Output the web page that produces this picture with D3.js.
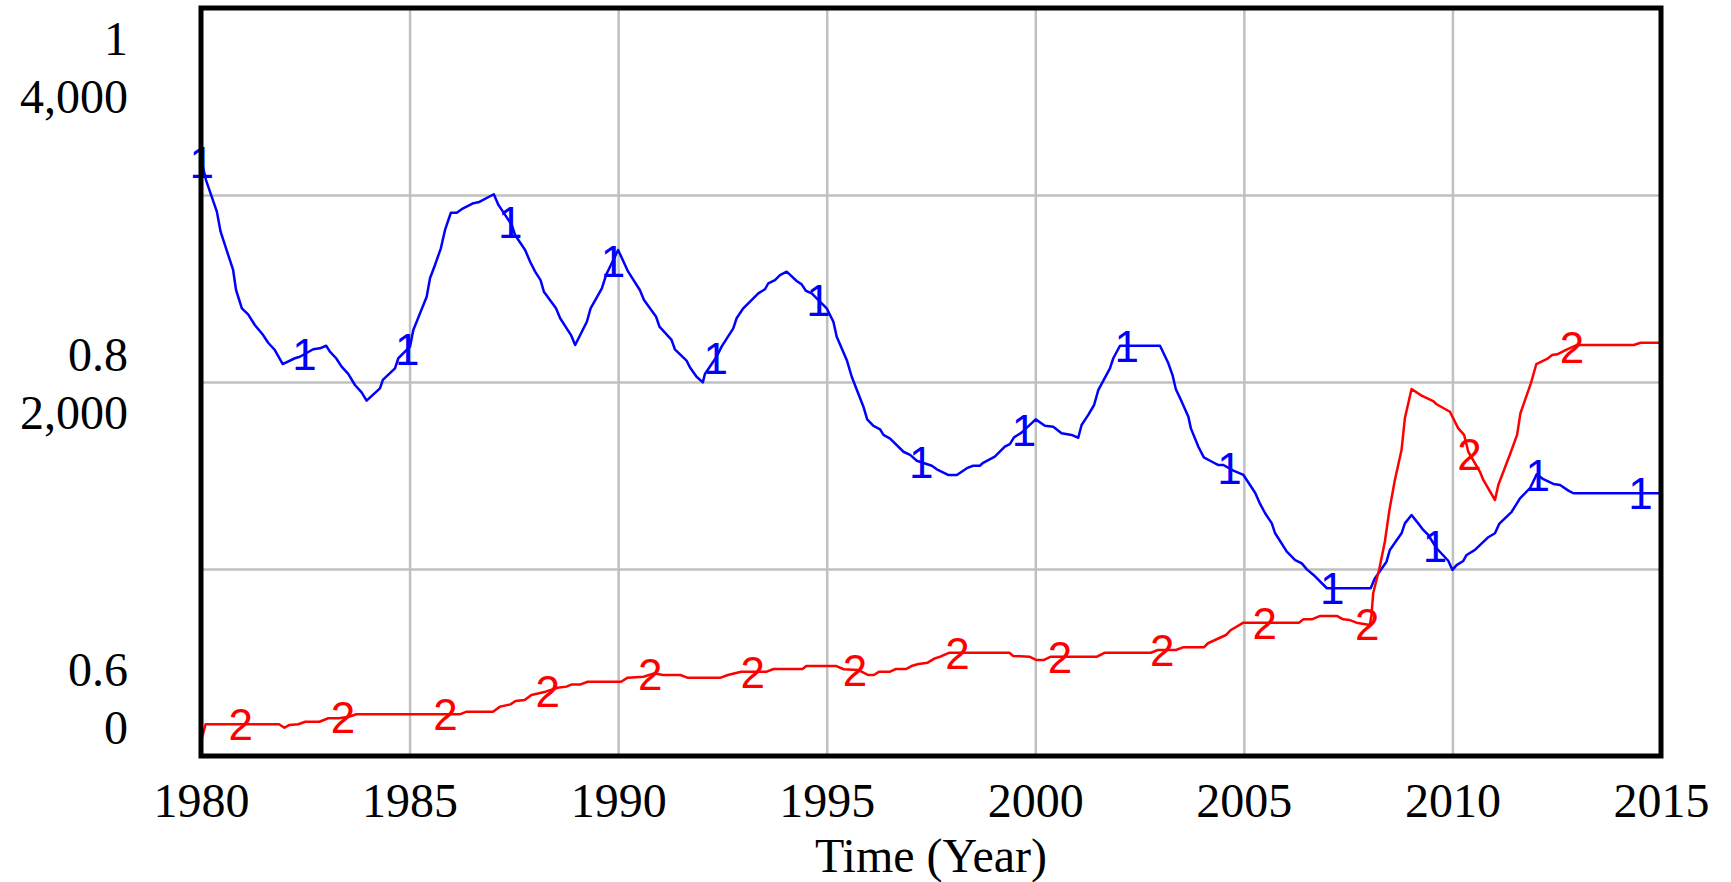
<!DOCTYPE html>
<html>
<head>
<meta charset="utf-8">
<script src="https://cdn.jsdelivr.net/npm/d3@7"></script>
<style>
  body { margin: 0; background: #fff; }
</style>
</head>
<body>
<div id="chart"></div>
<script>
// Series 1 (blue, left scale 0 - 4,000)
const series1Time = [
  1980.00, 1980.12, 1980.38, 1980.47, 1980.77, 1980.84, 1980.98, 1981.13, 1981.29, 1981.49,
  1981.61, 1981.77, 1981.96, 1982.25, 1982.37, 1982.69, 1982.85, 1983.00, 1983.09, 1983.24,
  1983.37, 1983.53, 1983.69, 1983.85, 1983.97, 1984.29, 1984.36, 1984.65, 1984.73, 1985.01,
  1985.09, 1985.25, 1985.41, 1985.49, 1985.61, 1985.75, 1985.85, 1985.99, 1986.13, 1986.25,
  1986.53, 1986.65, 1987.02, 1987.13, 1987.45, 1987.53, 1987.77, 1987.89, 1988.01, 1988.14,
  1988.22, 1988.51, 1988.61, 1988.87, 1988.97, 1989.25, 1989.34, 1989.61, 1989.71, 1990.00,
  1990.24, 1990.52, 1990.62, 1990.91, 1990.99, 1991.28, 1991.36, 1991.64, 1991.72, 1991.88,
  1992.03, 1992.08, 1992.36, 1992.48, 1992.76, 1992.84, 1993.00, 1993.36, 1993.52, 1993.60,
  1993.76, 1993.88, 1994.04, 1994.28, 1994.40, 1994.50, 1994.64, 1995.00, 1995.16, 1995.24,
  1995.48, 1995.60, 1995.88, 1995.97, 1996.12, 1996.28, 1996.36, 1996.52, 1996.84, 1997.00,
  1997.16, 1997.52, 1997.64, 1997.91, 1998.12, 1998.36, 1998.51, 1998.67, 1998.75, 1999.03,
  1999.27, 1999.39, 1999.49, 1999.67, 2000.01, 2000.23, 2000.43, 2000.63, 2000.87, 2001.03,
  2001.11, 2001.27, 2001.41, 2001.51, 2001.79, 2001.87, 2002.03, 2002.99, 2003.19, 2003.29,
  2003.37, 2003.51, 2003.67, 2003.73, 2003.91, 2004.04, 2004.19, 2004.39, 2004.51, 2004.75,
  2004.99, 2005.27, 2005.39, 2005.51, 2005.67, 2005.75, 2006.03, 2006.23, 2006.39, 2006.51,
  2006.67, 2006.99, 2008.04, 2008.14, 2008.42, 2008.50, 2008.78, 2008.86, 2009.02, 2009.18,
  2009.30, 2009.42, 2009.62, 2009.90, 2010.00, 2010.10, 2010.26, 2010.34, 2010.54, 2010.86,
  2011.02, 2011.12, 2011.42, 2011.62, 2011.86, 2012.02, 2012.18, 2012.42, 2012.58, 2012.78,
  2012.90, 2015.00
];
const series1Value = [
  3195, 3080, 2911, 2804, 2599, 2492, 2394, 2362, 2305, 2251,
  2210, 2171, 2096, 2127, 2135, 2175, 2180, 2194, 2162, 2127,
  2082, 2043, 1984, 1945, 1900, 1966, 2011, 2073, 2127, 2189,
  2278, 2367, 2456, 2555, 2626, 2715, 2813, 2905, 2905, 2924,
  2956, 2961, 3004, 2947, 2840, 2786, 2706, 2643, 2590, 2545,
  2483, 2394, 2341, 2251, 2198, 2322, 2394, 2501, 2572, 2706,
  2590, 2492, 2439, 2349, 2296, 2225, 2175, 2114, 2079, 2028,
  1998, 2043, 2135, 2189, 2287, 2341, 2394, 2474, 2496, 2528,
  2545, 2572, 2590, 2540, 2522, 2488, 2474, 2394, 2322, 2242,
  2118, 2028, 1868, 1800, 1765, 1747, 1717, 1697, 1627, 1610,
  1579, 1552, 1533, 1503, 1503, 1539, 1552, 1552, 1568, 1601,
  1654, 1668, 1704, 1729, 1800, 1766, 1761, 1726, 1717, 1702,
  1770, 1824, 1877, 1957, 2073, 2127, 2194, 2194, 2100, 2037,
  1961, 1895, 1814, 1752, 1654, 1597, 1579, 1556, 1556, 1526,
  1503, 1408, 1348, 1298, 1244, 1191, 1093, 1048, 1030, 998,
  968, 897, 897, 950, 1039, 1102, 1191, 1244, 1289, 1244,
  1209, 1182, 1111, 1044, 995, 1021, 1043, 1075, 1102, 1170,
  1191, 1241, 1306, 1378, 1432, 1506, 1480, 1455, 1449, 1419,
  1405, 1405
];

// Series 2 (red, left scale 0.6 - 1)
const series2Time = [
  1980.00, 1980.11, 1981.87, 1982.00, 1982.12, 1982.33, 1982.50, 1982.84, 1983.05, 1983.30,
  1983.55, 1983.72, 1986.20, 1986.37, 1987.00, 1987.17, 1987.42, 1987.54, 1987.76, 1987.92,
  1988.26, 1988.55, 1988.76, 1988.89, 1989.10, 1989.27, 1990.07, 1990.23, 1990.61, 1990.86,
  1991.07, 1991.49, 1991.66, 1992.46, 1992.63, 1992.95, 1993.56, 1993.73, 1994.42, 1994.51,
  1995.23, 1995.41, 1995.75, 1996.00, 1996.13, 1996.26, 1996.52, 1996.65, 1996.90, 1997.03,
  1997.20, 1997.42, 1997.59, 1997.72, 1997.93, 1999.38, 1999.47, 1999.86, 2000.03, 2000.20,
  2000.37, 2001.48, 2001.66, 2002.77, 2002.94, 2003.37, 2003.54, 2004.04, 2004.14, 2004.57,
  2004.69, 2004.99, 2006.32, 2006.43, 2006.63, 2006.83, 2007.23, 2007.38, 2007.54, 2007.70,
  2008.02, 2008.06, 2008.10, 2008.25, 2008.38, 2008.49, 2008.62, 2008.78, 2008.86, 2009.02,
  2009.26, 2009.54, 2009.62, 2009.94, 2010.14, 2010.28, 2010.38, 2010.66, 2010.74, 2011.02,
  2011.10, 2011.39, 2011.55, 2011.63, 2011.88, 2012.01, 2012.27, 2012.39, 2012.51, 2012.75,
  2012.99, 2014.35, 2014.51, 2015.00
];
const series2Value = [
  0.6076, 0.6170, 0.6170, 0.6151, 0.6166, 0.6170, 0.6183, 0.6183, 0.6202, 0.6202,
  0.6210, 0.6223, 0.6223, 0.6237, 0.6237, 0.6264, 0.6276, 0.6294, 0.6299, 0.6326,
  0.6344, 0.6365, 0.6371, 0.6383, 0.6383, 0.6397, 0.6397, 0.6419, 0.6424, 0.6442,
  0.6433, 0.6433, 0.6419, 0.6419, 0.6433, 0.6451, 0.6451, 0.6465, 0.6465, 0.6481,
  0.6481, 0.6464, 0.6460, 0.6433, 0.6433, 0.6451, 0.6451, 0.6465, 0.6465, 0.6481,
  0.6492, 0.6499, 0.6522, 0.6531, 0.6552, 0.6552, 0.6535, 0.6531, 0.6513, 0.6513,
  0.6531, 0.6531, 0.6552, 0.6552, 0.6567, 0.6567, 0.6581, 0.6581, 0.6603, 0.6647,
  0.6674, 0.6713, 0.6713, 0.6731, 0.6731, 0.6749, 0.6749, 0.6731, 0.6727, 0.6713,
  0.6701, 0.6754, 0.6870, 0.7004, 0.7146, 0.7316, 0.7476, 0.7636, 0.7806, 0.7963,
  0.7927, 0.7898, 0.7881, 0.7841, 0.7752, 0.7717, 0.7627, 0.7520, 0.7476, 0.7369,
  0.7449, 0.7619, 0.7717, 0.7833, 0.7993, 0.8095, 0.8123, 0.8144, 0.8148, 0.8175,
  0.8198, 0.8198, 0.8210, 0.8210
];

// Tick labels
const timeTicks = [1980, 1985, 1990, 1995, 2000, 2005, 2010, 2015];
const scale1Ticks = [0, 2000, 4000];
const scale2Ticks = [0.6, 0.8, 1];
const gridTicks = [1000, 2000, 3000];

const width = 1731, height = 882;

const x = d3.scaleLinear().domain([1980, 2015]).range([201, 1661]);
const y1 = d3.scaleLinear().domain([0, 4000]).range([756, 8]);
const y2 = d3.scaleLinear().domain([0.6, 1]).range([756, 8]);

const svg = d3.select('#chart')
  .append('svg')
  .attr('width', width)
  .attr('height', height)
  .style('font-family', '"Liberation Serif", "Times New Roman", serif');

// Grid
svg.append('g')
  .attr('transform', `translate(0, ${y1(0)})`)
  .call(d3.axisBottom(x).tickValues(timeTicks.slice(1, -1)).tickSize(-(y1(0) - y1(4000))).tickFormat(''))
  .call(g => g.select('.domain').remove())
  .call(g => g.selectAll('line').attr('stroke', '#c0c0c0').attr('stroke-width', 2.5));

svg.append('g')
  .attr('transform', `translate(${x(1980)}, 0)`)
  .call(d3.axisLeft(y1).tickValues(gridTicks).tickSize(-(x(2015) - x(1980))).tickFormat(''))
  .call(g => g.select('.domain').remove())
  .call(g => g.selectAll('line').attr('stroke', '#c0c0c0').attr('stroke-width', 2.5));

// Lines
const line1 = d3.line().x(d => x(d[0])).y(d => y1(d[1]));
const line2 = d3.line().x(d => x(d[0])).y(d => y2(d[1]));
const data1 = series1Time.map((t, i) => [t, series1Value[i]]);
const data2 = series2Time.map((t, i) => [t, series2Value[i]]);

svg.append('path').datum(data1)
  .attr('d', line1).attr('fill', 'none')
  .attr('stroke', '#0000ff').attr('stroke-width', 2.5).attr('stroke-linejoin', 'round');
svg.append('path').datum(data2)
  .attr('d', line2).attr('fill', 'none')
  .attr('stroke', '#ff0000').attr('stroke-width', 2.5).attr('stroke-linejoin', 'round');

// Series number markers along the lines
const bisect = d3.bisector(d => d[0]).left;
const valueAt = (data, t) => {
  const i = Math.min(Math.max(bisect(data, t), 1), data.length - 1);
  const a = data[i - 1], b = data[i];
  return a[1] + (b[1] - a[1]) * (t - a[0]) / (b[0] - a[0]);
};
const markers1 = d3.range(15).map(i => 1980.02 + i * 2.4635);
const markers2 = d3.range(14).map(i => 1980.95 + i * 2.455);

const markerText = (sel) => sel
  .attr('text-anchor', 'middle')
  .attr('dy', '0.36em')
  .style('font-family', '"Liberation Sans", Arial, sans-serif')
  .style('font-size', '44px');

svg.append('g').selectAll('text')
  .data(markers1).enter().append('text')
  .attr('x', t => x(t)).attr('y', t => y1(valueAt(data1, t)))
  .attr('fill', '#0000ff').text('1').call(markerText);

svg.append('g').selectAll('text')
  .data(markers2).enter().append('text')
  .attr('x', t => x(t)).attr('y', t => y2(valueAt(data2, t)))
  .attr('fill', '#ff0000').text('2').call(markerText);

// Frame
svg.append('rect')
  .attr('x', x(1980)).attr('y', y1(4000))
  .attr('width', x(2015) - x(1980)).attr('height', y1(0) - y1(4000))
  .attr('fill', 'none').attr('stroke', '#000').attr('stroke-width', 5);

// Time axis labels
svg.append('g')
  .attr('transform', `translate(0, ${y1(0)})`)
  .call(d3.axisBottom(x).tickValues(timeTicks).tickSize(0).tickPadding(27).tickFormat(d3.format('d')))
  .call(g => g.select('.domain').remove())
  .call(g => g.selectAll('text')
    .attr('fill', '#000')
    .style('font-family', '"Liberation Serif", "Times New Roman", serif')
    .style('font-size', '48px'));

svg.append('text')
  .attr('x', (x(1980) + x(2015)) / 2)
  .attr('y', 872)
  .attr('text-anchor', 'middle')
  .style('font-size', '48px')
  .text('Time (Year)');

// Stacked left labels: scale 2 above, scale 1 below
const blockH = 117;
const yTop = y1.range()[1], yBottom = y1.range()[0];
const labels = svg.append('g').attr('text-anchor', 'end').style('font-size', '48px');
scale1Ticks.forEach((v, i) => {
  const py = y1(v);
  const top = Math.max(yTop, Math.min(py - blockH / 2, yBottom - blockH));
  labels.append('text').attr('x', 128).attr('y', top + 47).text(String(scale2Ticks[i]));
  labels.append('text').attr('x', 128).attr('y', top + 105).text(d3.format(',')(v));
});
</script>
</body>
</html>
